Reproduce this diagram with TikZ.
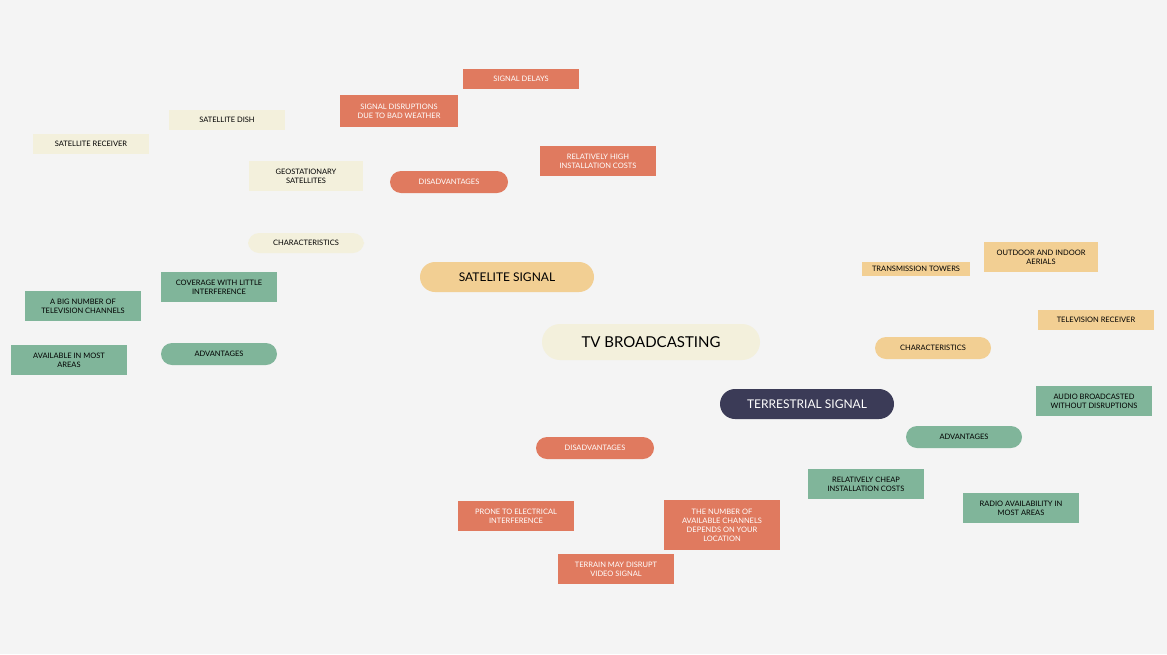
\documentclass[tikz,border=0pt]{standalone}
\usepackage{fontspec}
\setmainfont{Lato}
\usetikzlibrary{backgrounds}
\definecolor{bg}{HTML}{F4F4F4}
\definecolor{cream}{HTML}{F3F0DC}
\definecolor{sand}{HTML}{F2CF93}
\definecolor{navy}{HTML}{3B3B57}
\definecolor{coral}{HTML}{E07A5F}
\definecolor{sage}{HTML}{80B59A}
\definecolor{ln}{HTML}{9A9A9A}
\tikzset{
 base/.style={inner sep=0pt,align=center,font=\fontsize{7.5}{9}\selectfont},
 leaf/.style={base,minimum width=#1,minimum height=30},
 pill/.style={base,rounded corners=11,minimum width=116,minimum height=22},
 main/.style={base,rounded corners=15,minimum width=174,minimum height=30,font=\fontsize{12}{14}\selectfont},
 ed/.style={draw=ln,dashed,dash pattern=on 5pt off 3pt,line width=1.3pt}
}
\begin{document}
\begin{tikzpicture}[x=1pt,y=-1pt]
\fill[bg] (0,0) rectangle (1167,654);
\node[main,fill=cream,minimum width=218,minimum height=36,rounded corners=18,font=\fontsize{15}{17}\selectfont] (tv) at (651,342) {TV BROADCASTING};
\node[main,fill=sand] (sat) at (507,277) {SATELITE SIGNAL};
\node[main,fill=navy,text=white] (terr) at (807,404) {TERRESTRIAL SIGNAL};
% satellite disadvantages
\node[pill,fill=coral,text=white,minimum width=118] (dis1) at (449,182) {DISADVANTAGES};
\node[leaf=116,minimum height=20,fill=coral,text=white] (sd) at (521,79) {SIGNAL DELAYS};
\node[leaf=118,minimum height=32,fill=coral,text=white] (sdw) at (399,111) {SIGNAL DISRUPTIONS\\DUE TO BAD WEATHER};
\node[leaf=116,fill=coral,text=white] (rhc) at (598,161) {RELATIVELY HIGH\\INSTALLATION COSTS};
% satellite characteristics
\node[pill,fill=cream,minimum height=20] (char1) at (306,243) {CHARACTERISTICS};
\node[leaf=114,fill=cream] (geo) at (306,176) {GEOSTATIONARY\\SATELLITES};
\node[leaf=116,minimum height=20,fill=cream] (dish) at (227,120) {SATELLITE DISH};
\node[leaf=116,minimum height=20,fill=cream] (recv) at (91,144) {SATELLITE RECEIVER};
% satellite advantages
\node[pill,fill=sage] (adv1) at (219,354) {ADVANTAGES};
\node[leaf=116,fill=sage] (cov) at (219,287) {COVERAGE WITH LITTLE\\INTERFERENCE};
\node[leaf=116,fill=sage] (big) at (83,306) {A BIG NUMBER OF\\TELEVISION CHANNELS};
\node[leaf=116,fill=sage] (avail) at (69,360) {AVAILABLE IN MOST\\AREAS};
% terrestrial characteristics
\node[pill,fill=sand] (char2) at (933,348) {CHARACTERISTICS};
\node[leaf=108,minimum height=14,fill=sand] (tt) at (916,269) {TRANSMISSION TOWERS};
\node[leaf=114,fill=sand] (oia) at (1041,257) {OUTDOOR AND INDOOR\\AERIALS};
\node[leaf=116,minimum height=20,fill=sand] (tr) at (1096,320) {TELEVISION RECEIVER};
% terrestrial advantages
\node[pill,fill=sage] (adv2) at (964,437) {ADVANTAGES};
\node[leaf=116,fill=sage] (ab) at (1094,401) {AUDIO BROADCASTED\\WITHOUT DISRUPTIONS};
\node[leaf=116,fill=sage] (cheap) at (866,484) {RELATIVELY CHEAP\\INSTALLATION COSTS};
\node[leaf=116,fill=sage] (radio) at (1021,508) {RADIO AVAILABILITY IN\\MOST AREAS};
% terrestrial disadvantages
\node[pill,fill=coral,text=white,minimum width=118] (dis2) at (595,448) {DISADVANTAGES};
\node[leaf=116,fill=coral,text=white] (prone) at (516,516) {PRONE TO ELECTRICAL\\INTERFERENCE};
\node[leaf=116,fill=coral,text=white] (terrain) at (616,569) {TERRAIN MAY DISRUPT\\VIDEO SIGNAL};
\node[leaf=116,minimum height=50,fill=coral,text=white] (num) at (722,525) {THE NUMBER OF\\AVAILABLE CHANNELS\\DEPENDS ON YOUR\\LOCATION};
\begin{scope}[on background layer]
\fill[bg] (0,0) rectangle (1167,654);
\draw[ed] (sat)--(tv); \draw[ed] (tv)--(terr);
\draw[ed] (sat)--(dis1); \draw[ed] (sat)--(char1); \draw[ed] (sat)--(adv1);
\draw[ed] (dis1)--(sd); \draw[ed] (dis1)--(sdw); \draw[ed] (dis1)--(rhc);
\draw[ed] (char1)--(geo); \draw[ed] (char1)--(dish); \draw[ed] (char1)--(recv);
\draw[ed] (adv1)--(cov); \draw[ed] (adv1)--(big); \draw[ed] (adv1)--(avail);
\draw[ed] (terr)--(char2); \draw[ed] (terr)--(adv2); \draw[ed] (terr)--(dis2);
\draw[ed] (char2)--(tt); \draw[ed] (char2)--(oia); \draw[ed] (char2)--(tr);
\draw[ed] (adv2)--(ab); \draw[ed] (adv2)--(cheap); \draw[ed] (adv2)--(radio);
\draw[ed] (dis2)--(prone); \draw[ed] (dis2)--(terrain); \draw[ed] (dis2)--(num);
\end{scope}
\end{tikzpicture}
\end{document}
